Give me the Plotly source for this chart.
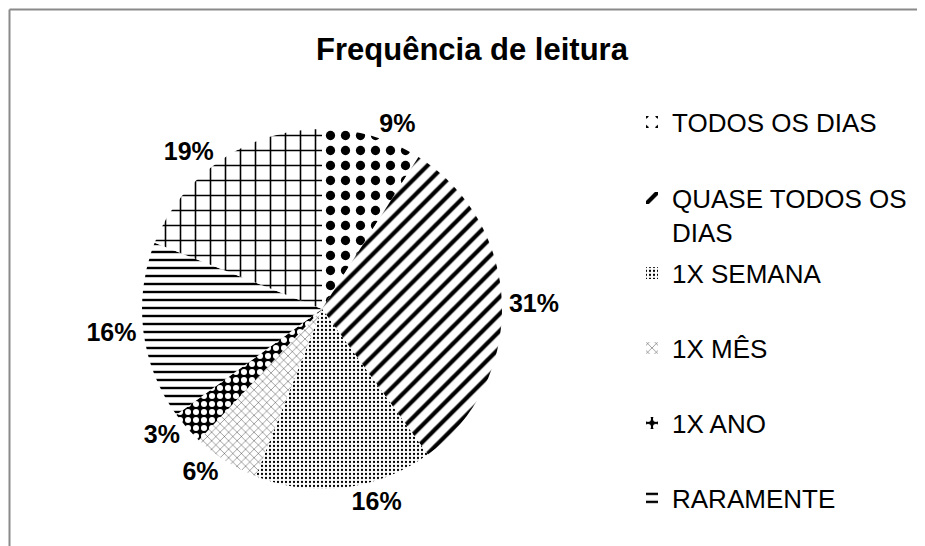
import plotly.graph_objects as go

# ---- data ----
categories = ["TODOS OS DIAS", "QUASE TODOS OS DIAS", "1X SEMANA", "1X MÊS",
              "1X ANO", "RARAMENTE", "NUNCA"]
values = [9, 31, 16, 6, 3, 16, 19]
legend_labels = ["TODOS OS DIAS", "QUASE TODOS OS<br>DIAS", "1X SEMANA", "1X MÊS",
                 "1X ANO", "RARAMENTE"]
title_text = "Frequência de leitura"

# ---- styles ----
W, H = 925, 546
OFF = 8  # page body margin
FONT = "Liberation Sans, Arial, sans-serif"
pat_shape = [".", "/", ".", "x", ".", "-", "+"]
pat_size = [15, 12, 4, 6, 8, 8, 15]
pat_solid = [0.3, 0.35, 0.25, 0.12, 0.45, 0.3, 0.2]
pat_fg = ["black", "black", "black", "black", "white", "black", "black"]
pat_bg = ["white", "white", "white", "white", "black", "white", "white"]

def px_x(p):
    return (p - OFF) / W

def px_y(p):
    return 1 - (p - OFF) / H

cx, cy, r = 322, 309, 180

fig = go.Figure()

# tiny hidden pies, one per legend box (drawn first, covered by main pie)
legend_y = [122, 215, 273, 348, 423, 498]
for i, lab in enumerate(legend_labels):
    lname = "legend" if i == 0 else f"legend{i+1}"
    fig.add_trace(go.Pie(
        labels=[lab], values=[values[i]], sort=False,
        domain=dict(x=[px_x(cx - 0.4), px_x(cx + 0.4)], y=[px_y(cy + 0.4), px_y(cy - 0.4)]),
        marker=dict(colors=["white"], line=dict(width=0),
                    pattern=dict(shape=[pat_shape[i]], size=[pat_size[i]],
                                 solidity=[pat_solid[i]], fgcolor=[pat_fg[i]],
                                 bgcolor=[pat_bg[i]])),
        textinfo="none", hoverinfo="skip", showlegend=True, legend=lname,
    ))

fig.add_trace(go.Pie(
    labels=categories, values=values, sort=False, direction="clockwise", rotation=0,
    domain=dict(x=[px_x(cx - r), px_x(cx + r)], y=[px_y(cy + r), px_y(cy - r)]),
    marker=dict(colors=["white"] * len(values), line=dict(width=0),
                pattern=dict(shape=pat_shape, size=pat_size, solidity=pat_solid,
                             fgcolor=pat_fg, bgcolor=pat_bg, fillmode="replace")),
    texttemplate="<b>%{value}%</b>", textposition="outside",
    outsidetextfont=dict(family=FONT, size=25, color="black"),
    showlegend=False, hoverinfo="label+percent",
))

layout_legends = {}
for i, yv in enumerate(legend_y):
    lname = "legend" if i == 0 else f"legend{i+1}"
    layout_legends[lname] = dict(
        x=px_x(632), xanchor="left", y=px_y(yv), yanchor="middle",
        font=dict(family=FONT, size=26, color="black"),
        bgcolor="rgba(0,0,0,0)", borderwidth=0, valign="top",
        itemclick=False, itemdoubleclick=False,
    )

fig.update_layout(
    width=W, height=H, autosize=False,
    margin=dict(l=0, r=0, t=0, b=0),
    paper_bgcolor="white", plot_bgcolor="white",
    title=dict(text="<b>" + title_text + "</b>", x=px_x(472), xanchor="center",
               y=px_y(49), yanchor="middle",
               font=dict(family=FONT, size=31, color="black")),
    shapes=[
        dict(type="line", xref="paper", yref="paper", x0=px_x(9.5), x1=1.0,
             y0=px_y(9.5), y1=px_y(9.5), line=dict(color="#8a8a8a", width=2)),
        dict(type="line", xref="paper", yref="paper", x0=px_x(9.5), x1=px_x(9.5),
             y0=0, y1=px_y(9.5), line=dict(color="#8a8a8a", width=2)),
    ],
    **layout_legends,
)

fig.write_html("out.html")
